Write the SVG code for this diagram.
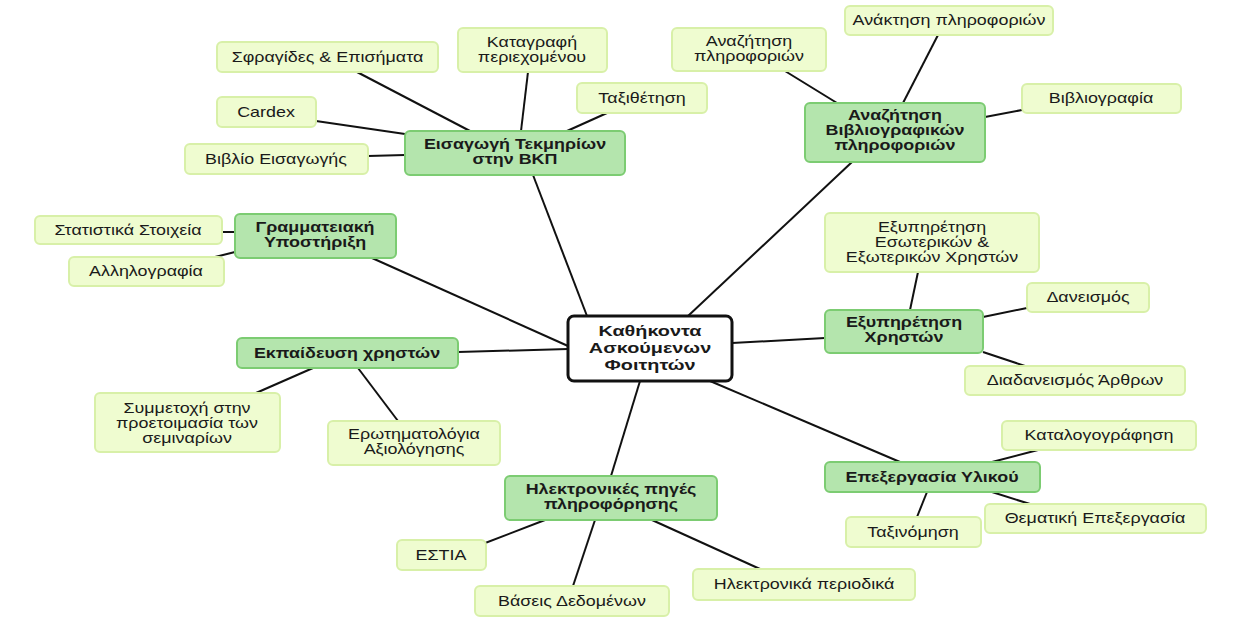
<svg xmlns="http://www.w3.org/2000/svg" width="1245" height="631" viewBox="0 0 1245 631">
<style>
.bg{fill:#ffffff}
.leaf rect{fill:#effcd0;stroke:#d8f0a8;stroke-width:2}
.main rect{fill:#b4e5ad;stroke:#7ccc72;stroke-width:2}
.center rect{fill:#ffffff;stroke:#111111;stroke-width:3}
text{font-family:"Liberation Sans","DejaVu Sans",sans-serif;font-size:14px;fill:#1a1a1a;text-anchor:middle}
.main text{font-weight:bold}
.center text{font-weight:bold;font-size:15.5px}
#connectors line{stroke:#111111;stroke-width:2}
</style>
<rect class="bg" x="0" y="0" width="1245" height="631"/>
<g id="connectors">
<line x1="587" y1="316" x2="533" y2="175"/>
<line x1="688" y1="316" x2="852" y2="162"/>
<line x1="568" y1="346" x2="372" y2="258"/>
<line x1="568" y1="349" x2="458" y2="352"/>
<line x1="732" y1="343" x2="825" y2="338"/>
<line x1="710" y1="381" x2="900" y2="462"/>
<line x1="640" y1="381" x2="611" y2="476"/>
<line x1="357" y1="72" x2="470" y2="131"/>
<line x1="528" y1="72" x2="521" y2="131"/>
<line x1="607" y1="113" x2="567" y2="131"/>
<line x1="316" y1="121" x2="405" y2="134"/>
<line x1="368" y1="156" x2="405" y2="155"/>
<line x1="785" y1="71" x2="837" y2="103"/>
<line x1="938" y1="35" x2="903" y2="103"/>
<line x1="1022" y1="110" x2="985" y2="117"/>
<line x1="222" y1="232" x2="235" y2="232"/>
<line x1="215" y1="257" x2="235" y2="252"/>
<line x1="256" y1="393" x2="313" y2="368"/>
<line x1="398" y1="421" x2="358" y2="368"/>
<line x1="918" y1="272" x2="910" y2="310"/>
<line x1="983" y1="317" x2="1027" y2="308"/>
<line x1="983" y1="352" x2="1025" y2="366"/>
<line x1="992" y1="462" x2="1038" y2="450"/>
<line x1="992" y1="492" x2="1030" y2="504"/>
<line x1="927" y1="492" x2="917" y2="517"/>
<line x1="480" y1="545" x2="545" y2="520"/>
<line x1="573" y1="586" x2="595" y2="520"/>
<line x1="760" y1="569" x2="652" y2="520"/>
</g>

<g id="n_center" class="center"><rect x="568" y="316" width="164" height="65" rx="6"/>
<text transform="translate(650,0) scale(1.28,1)"><tspan x="0" y="336">Καθήκοντα</tspan><tspan x="0" y="353">Ασκούμενων</tspan><tspan x="0" y="370">Φοιτητών</tspan></text></g>

<g id="n_eisagogi" class="main"><rect x="405" y="131" width="220" height="44" rx="5"/>
<text transform="translate(515,0) scale(1.28,1)"><tspan x="0" y="149">Εισαγωγή Τεκμηρίων</tspan><tspan x="0" y="164">στην ΒΚΠ</tspan></text></g>
<g id="n_anazitisi_vivl" class="main"><rect x="805" y="103" width="180" height="59" rx="5"/>
<text transform="translate(895,0) scale(1.28,1)"><tspan x="0" y="120">Αναζήτηση</tspan><tspan x="0" y="135">Βιβλιογραφικών</tspan><tspan x="0" y="150">πληροφοριών</tspan></text></g>
<g id="n_grammateiaki" class="main"><rect x="235" y="214" width="161" height="44" rx="5"/>
<text transform="translate(315,0) scale(1.28,1)"><tspan x="0" y="232">Γραμματειακή</tspan><tspan x="0" y="247">Υποστήριξη</tspan></text></g>
<g id="n_ekpaidefsi" class="main"><rect x="237" y="338" width="221" height="30" rx="5"/>
<text transform="translate(347,0) scale(1.28,1)" x="0" y="358">Εκπαίδευση χρηστών</text></g>
<g id="n_exypiretisi" class="main"><rect x="825" y="310" width="158" height="43" rx="5"/>
<text transform="translate(904,0) scale(1.28,1)"><tspan x="0" y="327">Εξυπηρέτηση</tspan><tspan x="0" y="342">Χρηστών</tspan></text></g>
<g id="n_epexergasia" class="main"><rect x="825" y="462" width="215" height="30" rx="5"/>
<text transform="translate(932,0) scale(1.28,1)" x="0" y="482">Επεξεργασία Υλικού</text></g>
<g id="n_ilektronikes" class="main"><rect x="505" y="476" width="212" height="44" rx="5"/>
<text transform="translate(611,0) scale(1.28,1)"><tspan x="0" y="494">Ηλεκτρονικές πηγές</tspan><tspan x="0" y="509">πληροφόρησης</tspan></text></g>

<g id="l_sfragides" class="leaf"><rect x="217" y="42" width="221" height="30" rx="5"/>
<text transform="translate(327.5,0) scale(1.28,1)" x="0" y="62">Σφραγίδες &amp; Επισήματα</text></g>
<g id="l_katagrafi" class="leaf"><rect x="458" y="28" width="149" height="44" rx="5"/>
<text transform="translate(532,0) scale(1.28,1)"><tspan x="0" y="47">Καταγραφή</tspan><tspan x="0" y="62">περιεχομένου</tspan></text></g>
<g id="l_taxithetisi" class="leaf"><rect x="577" y="83" width="130" height="30" rx="5"/>
<text transform="translate(642,0) scale(1.28,1)" x="0" y="103">Ταξιθέτηση</text></g>
<g id="l_cardex" class="leaf"><rect x="217" y="97" width="99" height="30" rx="5"/>
<text transform="translate(266,0) scale(1.28,1)" x="0" y="117">Cardex</text></g>
<g id="l_vivlio" class="leaf"><rect x="185" y="144" width="183" height="30" rx="5"/>
<text transform="translate(276,0) scale(1.28,1)" x="0" y="164">Βιβλίο Εισαγωγής</text></g>
<g id="l_anazitisi_pl" class="leaf"><rect x="672" y="28" width="154" height="43" rx="5"/>
<text transform="translate(749,0) scale(1.28,1)"><tspan x="0" y="46">Αναζήτηση</tspan><tspan x="0" y="61">πληροφοριών</tspan></text></g>
<g id="l_anaktisi" class="leaf"><rect x="845" y="6" width="208" height="29" rx="5"/>
<text transform="translate(949,0) scale(1.28,1)" x="0" y="25">Ανάκτηση πληροφοριών</text></g>
<g id="l_vivliografia" class="leaf"><rect x="1022" y="84" width="159" height="29" rx="5"/>
<text transform="translate(1101,0) scale(1.28,1)" x="0" y="103">Βιβλιογραφία</text></g>
<g id="l_statistika" class="leaf"><rect x="35" y="216" width="187" height="28" rx="5"/>
<text transform="translate(128,0) scale(1.28,1)" x="0" y="235">Στατιστικά Στοιχεία</text></g>
<g id="l_allilografia" class="leaf"><rect x="69" y="257" width="155" height="29" rx="5"/>
<text transform="translate(146,0) scale(1.28,1)" x="0" y="276">Αλληλογραφία</text></g>
<g id="l_symmetoxi" class="leaf"><rect x="95" y="393" width="185" height="59" rx="5"/>
<text transform="translate(187,0) scale(1.28,1)"><tspan x="0" y="413">Συμμετοχή στην</tspan><tspan x="0" y="428">προετοιμασία των</tspan><tspan x="0" y="443">σεμιναρίων</tspan></text></g>
<g id="l_erotimatologia" class="leaf"><rect x="328" y="421" width="172" height="44" rx="5"/>
<text transform="translate(414,0) scale(1.28,1)"><tspan x="0" y="439">Ερωτηματολόγια</tspan><tspan x="0" y="454">Αξιολόγησης</tspan></text></g>
<g id="l_exyp_esot" class="leaf"><rect x="825" y="213" width="214" height="59" rx="5"/>
<text transform="translate(932,0) scale(1.28,1)"><tspan x="0" y="232">Εξυπηρέτηση</tspan><tspan x="0" y="247">Εσωτερικών &amp;</tspan><tspan x="0" y="262">Εξωτερικών Χρηστών</tspan></text></g>
<g id="l_daneismos" class="leaf"><rect x="1027" y="283" width="122" height="29" rx="5"/>
<text transform="translate(1088,0) scale(1.28,1)" x="0" y="302">Δανεισμός</text></g>
<g id="l_diadaneismos" class="leaf"><rect x="965" y="366" width="220" height="29" rx="5"/>
<text transform="translate(1075,0) scale(1.28,1)" x="0" y="385">Διαδανεισμός Άρθρων</text></g>
<g id="l_katalogografisi" class="leaf"><rect x="1002" y="421" width="194" height="29" rx="5"/>
<text transform="translate(1099,0) scale(1.28,1)" x="0" y="440">Καταλογογράφηση</text></g>
<g id="l_thematiki" class="leaf"><rect x="985" y="504" width="221" height="29" rx="5"/>
<text transform="translate(1095,0) scale(1.28,1)" x="0" y="523">Θεματική Επεξεργασία</text></g>
<g id="l_taxinomisi" class="leaf"><rect x="846" y="517" width="135" height="30" rx="5"/>
<text transform="translate(913,0) scale(1.28,1)" x="0" y="537">Ταξινόμηση</text></g>
<g id="l_estia" class="leaf"><rect x="397" y="540" width="89" height="30" rx="5"/>
<text transform="translate(441,0) scale(1.28,1)" x="0" y="560">ΕΣΤΙΑ</text></g>
<g id="l_vaseis" class="leaf"><rect x="475" y="586" width="194" height="30" rx="5"/>
<text transform="translate(572,0) scale(1.28,1)" x="0" y="606">Βάσεις Δεδομένων</text></g>
<g id="l_periodika" class="leaf"><rect x="693" y="569" width="222" height="31" rx="5"/>
<text transform="translate(804,0) scale(1.28,1)" x="0" y="589">Ηλεκτρονικά περιοδικά</text></g>
</svg>
